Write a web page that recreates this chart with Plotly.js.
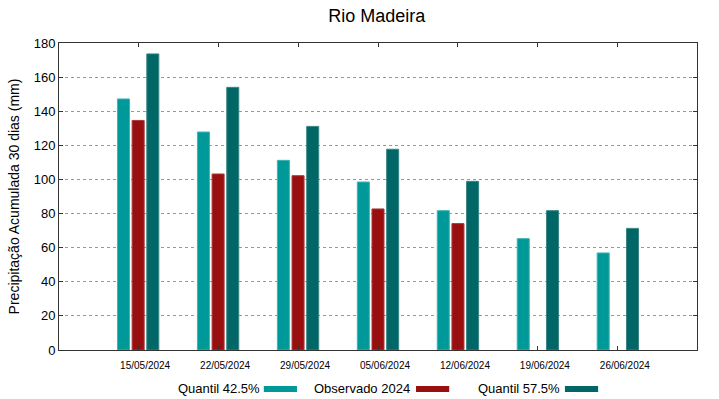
<!DOCTYPE html>
<html>
<head>
<meta charset="utf-8">
<script src="https://cdn.plot.ly/plotly-3.0.1.min.js"></script>
<style>html,body{margin:0;padding:0;background:#fff;}#chart{width:719px;height:399px;}</style>
</head>
<body>
<div id="chart"></div>
<script>
const dates = ["15/05/2024","22/05/2024","29/05/2024","05/06/2024","12/06/2024","19/06/2024","26/06/2024"];
const quantil425 = [147.2, 127.8, 111.2, 98.5, 81.7, 65.3, 56.9];
const observado2024 = [134.6, 103.2, 102.2, 82.7, 74.1, null, null];
const quantil575 = [173.6, 154.0, 131.1, 117.7, 98.9, 81.7, 71.3];
const seriesNames = ["Quantil 42.5%", "Observado 2024", "Quantil 57.5%"];
const colors = ["#009999", "#990f0f", "#006666"];
const lineColors = ["#40b3b3", "#a83a3a", "#3a8585"];

const idx = dates.map((d, i) => i);
const seriesVals = [quantil425, observado2024, quantil575];
const font = "Liberation Sans, Arial, sans-serif";

const traces = seriesVals.map((v, k) => ({
  type: "bar",
  x: idx,
  y: v,
  name: seriesNames[k],
  marker: {color: colors[k], line: {color: lineColors[k], width: 1}},
  showlegend: false,
  hoverinfo: "skip"
}));

// custom legend (text then swatch, as in the reference)
const legendPos = [{x: 0.184, sx: 0.321}, {x: 0.396, sx: 0.5596}, {x: 0.653, sx: 0.793}];
const annotations = seriesNames.map((n, k) => ({
  xref: "paper", yref: "paper",
  x: legendPos[k].x, y: -0.124,
  xanchor: "left", yanchor: "middle",
  text: n, showarrow: false,
  font: {family: font, size: 13, color: "#000"}
}));
const shapes = seriesNames.map((n, k) => ({
  type: "rect", xref: "paper", yref: "paper",
  x0: legendPos[k].sx, x1: legendPos[k].sx + 0.052,
  y0: -0.137, y1: -0.117,
  fillcolor: colors[k], line: {width: 0}
}));

const layout = {
  width: 719, height: 399,
  margin: {l: 59, r: 22, t: 43, b: 49},
  paper_bgcolor: "#fff", plot_bgcolor: "#fff",
  font: {family: font, color: "#000"},
  title: {text: "Rio Madeira", x: 0.524, xanchor: "center", y: 0.96, yanchor: "middle",
          font: {family: font, size: 18, color: "#000"}},
  barmode: "group",
  bargap: 0.45,
  bargroupgap: 0.18,
  xaxis: {
    range: [-0.99, 6.99],
    tickvals: idx, ticktext: dates,
    ticks: "inside", ticklen: 4, tickcolor: "#333",
    showline: true, linecolor: "#333", linewidth: 1, mirror: "ticks",
    showgrid: false, zeroline: false,
    tickfont: {family: font, size: 10, color: "#000"},
    ticklabelshift: 7, ticklabelstandoff: 6
  },
  yaxis: {
    range: [0, 180], dtick: 20,
    ticks: "inside", ticklen: 4, tickcolor: "#333",
    showline: true, linecolor: "#333", linewidth: 1, mirror: "ticks",
    showgrid: true, gridcolor: "#999", griddash: "dot", gridwidth: 1,
    zeroline: false,
    tickfont: {family: font, size: 13, color: "#000"},
    title: {text: "Precipitação Acumulada 30 dias (mm)", font: {family: font, size: 14, color: "#000"}, standoff: 10}
  },
  annotations: annotations,
  shapes: shapes
};

Plotly.newPlot("chart", traces, layout, {staticPlot: true});
</script>
</body>
</html>
